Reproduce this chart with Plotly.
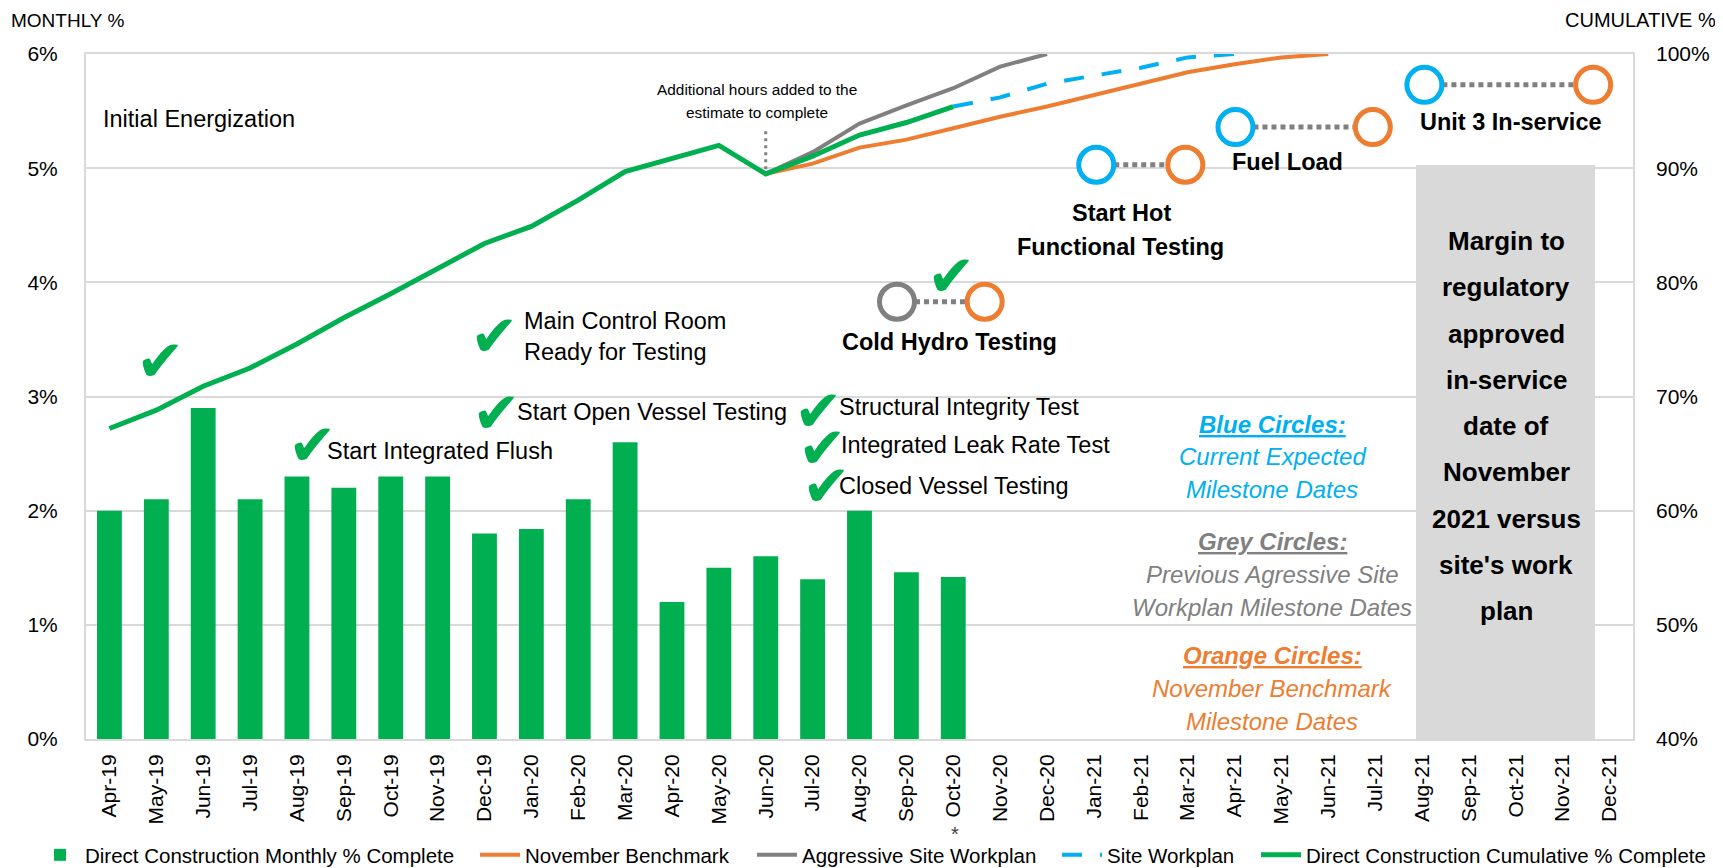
import plotly.graph_objects as go

# ---------------- data ----------------
months = ["Apr-19", "May-19", "Jun-19", "Jul-19", "Aug-19", "Sep-19", "Oct-19", "Nov-19",
          "Dec-19", "Jan-20", "Feb-20", "Mar-20", "Apr-20", "May-20", "Jun-20", "Jul-20",
          "Aug-20", "Sep-20", "Oct-20", "Nov-20", "Dec-20", "Jan-21", "Feb-21", "Mar-21",
          "Apr-21", "May-21", "Jun-21", "Jul-21", "Aug-21", "Sep-21", "Oct-21", "Nov-21",
          "Dec-21"]

actual_months = months[0:19]
monthly_pct = [2.0, 2.1, 2.9, 2.1, 2.3, 2.2, 2.3, 2.3, 1.8, 1.84, 2.1, 2.6, 1.2, 1.5,
               1.6, 1.4, 2.0, 1.46, 1.42]
cumulative_pct = [67.2, 68.8, 70.9, 72.5, 74.6, 76.9, 79.0, 81.2, 83.4, 84.9, 87.2, 89.7,
                  90.8, 92.0, 89.5, 91.05, 92.9, 94.0, 95.4]

benchmark_months = months[14:27]
benchmark_pct = [89.5, 90.4, 91.8, 92.5, 93.5, 94.5, 95.4, 96.4, 97.4, 98.4, 99.1, 99.7, 100]

aggressive_months = months[14:21]
aggressive_pct = [89.5, 91.4, 93.9, 95.5, 97.0, 98.9, 100]

site_months = months[18:25]
site_pct = [95.4, 96.2, 97.4, 98.1, 98.8, 99.7, 100]

series_names = ["Direct Construction Monthly % Complete", "November Benchmark",
                "Aggressive Site Workplan", "Site Workplan",
                "Direct Construction Cumulative % Complete"]

# milestones: position as fractional month index, level on cumulative axis
milestone_names = ["Cold Hydro Testing", "Start Hot Functional Testing", "Fuel Load",
                   "Unit 3 In-service"]
milestone_level = [78.3, 90.3, 93.6, 97.3]
milestone_current = [16.8, 21.05, 24.02, 28.05]
milestone_current_kind = ["grey", "blue", "blue", "blue"]
milestone_benchmark = [18.67, 22.95, 26.95, 31.65]

completed_milestones = ["Initial Energization", "Start Integrated Flush",
                        "Main Control Room<br>Ready for Testing", "Start Open Vessel Testing",
                        "Structural Integrity Test", "Integrated Leak Rate Test",
                        "Closed Vessel Testing"]

margin_text = ["Margin to", "regulatory", "approved", "in-service", "date of", "November",
               "2021 versus", "site's work", "plan"]

# ---------------- styles ----------------
GREEN = "#00B050"
ORANGE = "#ED7D31"
GREY = "#808080"
BLUE = "#00B0F0"
GRID = "#D9D9D9"
FONT = "Liberation Sans, Arial, sans-serif"

# page has an 8px body margin: figure is sized so it fills the window exactly
PAGE_OFF = 8
W, H = 1723 - PAGE_OFF, 868 - PAGE_OFF
# plot area in screen pixels
SL, SR, ST, SB = 86, 1633, 54, 739


def px(x):
    return (x - SL) / (SR - SL)


def py(y):
    return (SB - y) / (SB - ST)


legend_ids = ["legend", "legend2", "legend3", "legend4", "legend5"]
legend_text_x = [85, 525, 802, 1107, 1306]

fig = go.Figure()

fig.add_trace(go.Bar(x=actual_months, y=monthly_pct, name=series_names[0],
                     marker=dict(color=GREEN, line=dict(width=0)), yaxis="y",
                     legend=legend_ids[0]))
fig.add_trace(go.Scatter(x=benchmark_months, y=benchmark_pct, name=series_names[1],
                         mode="lines", line=dict(color=ORANGE, width=4), yaxis="y2",
                         legend=legend_ids[1]))
fig.add_trace(go.Scatter(x=aggressive_months, y=aggressive_pct, name=series_names[2],
                         mode="lines", line=dict(color=GREY, width=4), yaxis="y2",
                         legend=legend_ids[2]))
fig.add_trace(go.Scatter(x=site_months, y=site_pct, name=series_names[3],
                         mode="lines", line=dict(color=BLUE, width=4, dash="20px,18px"),
                         yaxis="y2", legend=legend_ids[3]))
fig.add_trace(go.Scatter(x=actual_months, y=cumulative_pct, name=series_names[4],
                         mode="lines", line=dict(color=GREEN, width=5), yaxis="y2",
                         legend=legend_ids[4]))

# dotted marker for "additional hours"
fig.add_trace(go.Scatter(x=["Jun-20", "Jun-20"], y=[89.9, 93.3], mode="lines",
                         line=dict(color=GREY, width=3, dash="3px,4px"), yaxis="y2",
                         showlegend=False, hoverinfo="skip"))

# milestone circles
for i in range(len(milestone_names)):
    fig.add_trace(go.Scatter(x=[milestone_current[i], milestone_benchmark[i]],
                             y=[milestone_level[i], milestone_level[i]], mode="lines",
                             line=dict(color=GREY, width=5, dash="5px,4px"),
                             xaxis="x2", yaxis="y2", showlegend=False, hoverinfo="skip"))
    cur_col = GREY if milestone_current_kind[i] == "grey" else BLUE
    fig.add_trace(go.Scatter(x=[milestone_current[i], milestone_benchmark[i]],
                             y=[milestone_level[i], milestone_level[i]], mode="markers",
                             marker=dict(size=35, color="white", symbol="circle",
                                         line=dict(color=[cur_col, ORANGE], width=5)),
                             xaxis="x2", yaxis="y2", showlegend=False,
                             text=[milestone_names[i]] * 2, hoverinfo="text"))

# grey margin box
fig.add_shape(type="rect", xref="paper", yref="paper", x0=px(1416), x1=px(1595),
              y0=py(741), y1=py(165), fillcolor=GRID, line=dict(width=0), layer="between")

ann = []


def add(text, x, y, size=23.5, color="#000000", xanchor="center", bold=False, italic=False,
        under=False, family=FONT):
    t = text
    if bold:
        t = "<b>" + t + "</b>"
    if italic:
        t = "<i>" + t + "</i>"
    f = dict(family=family, size=size, color=color)
    if under:
        f["lineposition"] = "under"
    ann.append(dict(x=px(x), y=py(y), xref="paper", yref="paper", text=t, showarrow=False,
                    xanchor=xanchor, yanchor="middle", font=f,
                    align="left" if xanchor == "left" else "center"))


# axis titles
add("MONTHLY %", 9, 20, size=19, xanchor="left")
add("CUMULATIVE %", 1718, 20, size=20, xanchor="right")

# completed milestones
add(completed_milestones[0], 101, 119, xanchor="left")
add(completed_milestones[1], 325, 451, xanchor="left")
add(completed_milestones[2], 522, 336, xanchor="left")
add(completed_milestones[3], 515, 412, xanchor="left")
add(completed_milestones[4], 837, 407, xanchor="left")
add(completed_milestones[5], 839, 445, xanchor="left")
add(completed_milestones[6], 837, 486, xanchor="left")

# check marks
for cx, cy in [(160, 361), (312, 445), (494, 336), (496, 413), (951, 276),
               (818, 411), (822, 448), (826, 486)]:
    add("\u2714", cx, cy, size=58, color=GREEN, family="DejaVu Sans")

# milestone labels
add(milestone_names[0], 949, 342, bold=True)
add("Start Hot", 1121, 213, bold=True)
add("Functional Testing", 1120, 247, bold=True)
add(milestone_names[2], 1287, 162, bold=True)
add(milestone_names[3], 1511, 122, bold=True)

# additional hours note
add("Additional hours added to the", 757, 90, size=15.4)
add("estimate to complete", 757, 112, size=15.4)

# margin box text
for k, line in enumerate(margin_text):
    add(line, 1506, 241 + 46.25 * k, size=26, bold=True)

# circle keys
add("Blue Circles:", 1272, 424, size=24, color=BLUE, bold=True, italic=True, under=True)
add("Current Expected", 1272, 456, size=24, color=BLUE, italic=True)
add("Milestone Dates", 1272, 490, size=24, color=BLUE, italic=True)
add("Grey Circles:", 1272, 541, size=24, color=GREY, bold=True, italic=True, under=True)
add("Previous Agressive Site", 1272, 574, size=24, color=GREY, italic=True)
add("Workplan Milestone Dates", 1272, 607, size=24, color=GREY, italic=True)
add("Orange Circles:", 1272, 655, size=24, color=ORANGE, bold=True, italic=True, under=True)
add("November Benchmark", 1272, 688, size=24, color=ORANGE, italic=True)
add("Milestone Dates", 1272, 721, size=24, color=ORANGE, italic=True)

# asterisk under Oct-20
add("*", 955, 834, size=20, color="#404040")

legend_layout = {}
for lid, tx in zip(legend_ids, legend_text_x):
    legend_layout[lid] = dict(orientation="h", x=px(tx - 50), y=py(855), xanchor="left",
                              yanchor="middle", font=dict(size=20.5, color="#000000"),
                              bgcolor="rgba(0,0,0,0)", itemwidth=40)

fig.update_layout(
    width=W, height=H,
    margin=dict(l=SL - PAGE_OFF, r=W - (SR - PAGE_OFF), t=ST - PAGE_OFF,
                b=H - (SB - PAGE_OFF), autoexpand=False),
    plot_bgcolor="white", paper_bgcolor="white",
    bargap=0.47,
    font=dict(family=FONT, size=21, color="#000000"),
    xaxis=dict(type="category", categoryorder="array", categoryarray=months,
               range=[-0.5, 32.5], tickangle=-90, showline=True, linecolor=GRID, linewidth=2,
               mirror=True, showgrid=False, ticks="", ticklabelstandoff=5,
               tickfont=dict(size=21), automargin=False),
    xaxis2=dict(overlaying="x", range=[-0.5, 32.5], visible=False, automargin=False),
    yaxis=dict(range=[0, 6], dtick=1, ticksuffix="%", showgrid=True, gridcolor=GRID,
               gridwidth=2, showline=True, linecolor=GRID, linewidth=2, mirror=True,
               zeroline=False, ticks="", ticklabelstandoff=22, tickfont=dict(size=21),
               automargin=False),
    yaxis2=dict(overlaying="y", side="right", range=[40, 100], dtick=10, ticksuffix="%",
                showgrid=False, zeroline=False, showline=False, ticks="",
                ticklabelstandoff=22, tickfont=dict(size=21), automargin=False),
    annotations=ann,
    showlegend=True,
    **legend_layout,
)

fig.write_html("out.html")
